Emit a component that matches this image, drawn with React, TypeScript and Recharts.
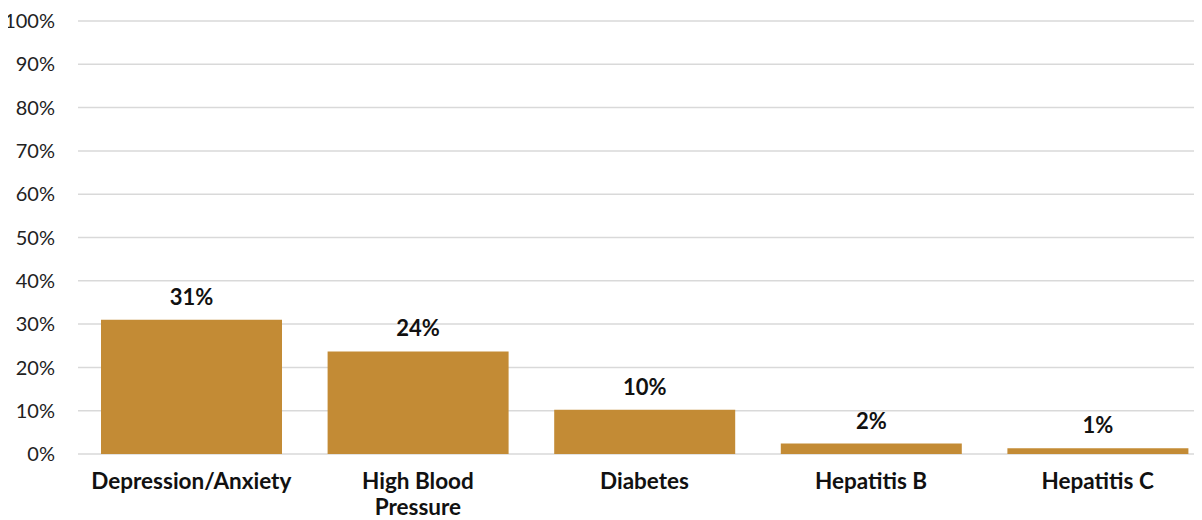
import { BarChart, Bar, XAxis, YAxis, CartesianGrid, LabelList } from "recharts"

const categories = ["Depression/Anxiety", "High Blood Pressure", "Diabetes", "Hepatitis B", "Hepatitis C"]
const shares = [31, 23.7, 10.2, 2.4, 1.3]
const yTicks = [0, 10, 20, 30, 40, 50, 60, 70, 80, 90, 100]

const data = categories.map((name, i) => ({ name, value: shares[i] }))

const FONT = "Lato, 'Open Sans', sans-serif"

// wraps "High Blood Pressure" onto two lines like the original
function CategoryTick(props: any) {
  const { x, y, payload } = props
  const words: string[] = payload.value.split(" ")
  const lines = words.length === 3 ? [words.slice(0, 2).join(" "), words[2]] : [payload.value]
  return (
    <text x={x} y={y} textAnchor="middle" fontFamily={FONT} fontSize={22.5} fontWeight={700} fill="#111">
      {lines.map((l, i) => (
        <tspan key={i} x={x} dy={i === 0 ? 27 : 26}>{l}</tspan>
      ))}
    </text>
  )
}

export default function App() {
  return (
    <div style={{ margin: "-8px 0 0 -8px", width: 1202, height: 520, overflow: "hidden" }}>
      <BarChart
        width={1212}
        height={520}
        data={data}
        margin={{ top: 21, right: 1, left: 0, bottom: 0 }}
      >
        <CartesianGrid vertical={false} stroke="#d9d9d9" strokeWidth={1.5} />
        <XAxis
          dataKey="name"
          height={66}
          axisLine={false}
          tickLine={false}
          interval={0}
          tick={<CategoryTick />}
        />
        <YAxis
          width={78}
          domain={[0, 100]}
          ticks={yTicks}
          axisLine={false}
          tickLine={false}
          tickSize={0}
          tickMargin={23}
          tickFormatter={(v) => `${v}%`}
          tick={{ fontSize: 20, fill: "#222", fontFamily: FONT }}
        />
        <Bar dataKey="value" fill="#C38B35" barSize={181} isAnimationActive={false}>
          <LabelList
            dataKey="value"
            position="top"
            offset={15}
            formatter={(v: any) => `${Math.round(v)}%`}
            style={{ fontSize: 22, fontWeight: 700, fill: "#111", fontFamily: FONT }}
          />
        </Bar>
      </BarChart>
    </div>
  )
}
